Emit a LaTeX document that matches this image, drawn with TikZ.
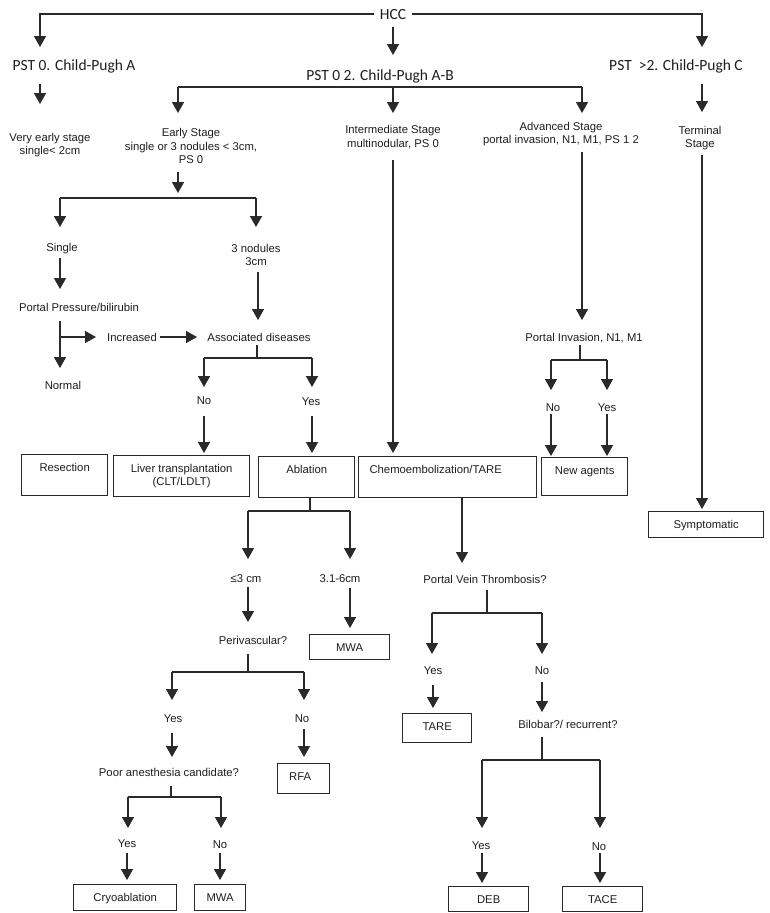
\documentclass[tikz,border=0pt]{standalone}
\usepackage{fontspec}
\setmainfont{Liberation Sans}
\newfontfamily\calfont{Carlito}
\usetikzlibrary{arrows.meta}
\definecolor{ink}{HTML}{1E1E1E}
\definecolor{lnc}{HTML}{2A2A2A}
\tikzset{
 ln/.style={line width=1.35pt, draw=lnc},
 arr/.style={ln, -{Triangle[length=11pt,width=12pt]}},
 lbl/.style={inner sep=0pt, text height=8pt, text depth=0pt, font=\fontsize{11.3}{13.5}\selectfont, text=ink},
 lblm/.style={inner sep=0pt, align=center, font=\fontsize{11.3}{13.5}\selectfont, text=ink},
 big/.style={inner sep=0pt, text height=10pt, text depth=0pt, font=\calfont\fontsize{15.5}{18}\selectfont, text=ink},
 box/.style 2 args={ln, anchor=north west, inner sep=0pt, minimum width=#1, text height=16.5pt, text depth=#2, font=\fontsize{11.3}{13.5}\selectfont, text=ink},
}
\begin{document}
\begin{tikzpicture}[x=1pt,y=-1pt]
\fill[white] (0,0) rectangle (769,913);
\useasboundingbox (0,0) rectangle (769,913);

% ---------- top level ----------
\node[big, inner xsep=6pt] (hcc) at (393,14) {HCC};
\node[big] (pst0) at (74,65) {PST 0. Child-Pugh A};
\node[big] (pst02) at (380,75) {PST 0 2. Child-Pugh A-B};
\node[big] (pst2) at (676,65) {PST\ \ >2. Child-Pugh C};

\draw[arr] (hcc.west) -| (40,47);
\draw[arr] (hcc.east) -| (702,47);
\draw[arr] (393,27) -- (393,55);

% ---------- stage labels ----------
\node[lblm] (vearly) at (50,145) {Very early stage\\single< 2cm};
\node[lblm] (early) at (191,146) {Early Stage\\single or 3 nodules < 3cm,\\PS 0};
\node[lblm] (inter) at (393,137) {Intermediate Stage\\multinodular, PS 0};
\node[lblm] (adv) at (561,134) {Advanced Stage\\portal invasion, N1, M1, PS 1 2};
\node[lblm] (term) at (700,138) {Terminal\\Stage};

\draw[arr] (40,84) -- (40,104);
\draw[ln] (178,87) -- (582,87);
\draw[arr] (178,87) -- (178,113);
\draw[arr] (393,87) -- (393,113);
\draw[arr] (582,87) -- (582,113);
\draw[arr] (702,84) -- (702,112);

% ---------- early stage branch ----------
\draw[arr] (178,172) -- (178,193);
\draw[ln] (60,198) -- (256,198);
\draw[arr] (60,198) -- (60,227);
\draw[arr] (256,198) -- (256,227);

\node[lbl] (single) at (62,247) {Single};
\node[lblm] (nod3) at (256,255) {3 nodules\\3cm};
\node[lbl] (ppb) at (79,307) {Portal Pressure/bilirubin};
\node[lbl] (incr) at (132,337) {Increased};
\node[lbl] (assoc) at (259,337) {Associated diseases};
\node[lbl] (normal) at (63,385) {Normal};

\draw[arr] (60,258) -- (60,289);
\draw[arr] (60,321) -- (60,368);
\draw[arr] (60,337) -- (96,337);
\draw[arr] (160,337) -- (197,337);
\draw[arr] (258,272) -- (258,320);

\draw[ln] (257,345) -- (257,358);
\draw[ln] (204,358) -- (312,358);
\draw[arr] (204,358) -- (204,387);
\draw[arr] (312,358) -- (312,387);
\node[lbl] (no1) at (204,400) {No};
\node[lbl] (yes1) at (311,401) {Yes};
\draw[arr] (204,416) -- (204,453);
\draw[arr] (312,416) -- (312,453);

% ---------- intermediate / advanced / terminal ----------
\draw[arr] (393,160) -- (393,453);
\draw[arr] (582,152) -- (582,320);
\node[lbl] (pinv) at (584,337) {Portal Invasion, N1, M1};
\draw[ln] (580,345) -- (580,360);
\draw[ln] (551,360) -- (607,360);
\draw[arr] (551,360) -- (551,390);
\draw[arr] (607,360) -- (607,390);
\node[lbl] (no2) at (553,407) {No};
\node[lbl] (yes2) at (607,407) {Yes};
\draw[arr] (551,414) -- (551,456);
\draw[arr] (607,414) -- (607,456);
\draw[arr] (702,155) -- (702,509);

% ---------- treatment boxes ----------
\node[box={86pt}{24.5pt}] (resect) at (21,454) {Resection};
\node[ln, anchor=north west, inner sep=0pt, minimum width=136pt, minimum height=41pt, align=center, font=\fontsize{11.3}{13.5}\selectfont, text=ink] (liver) at (113,455) {Liver transplantation\\(CLT/LDLT)};
\node[box={96pt}{24.5pt}] (ablat) at (258,456) {Ablation};
\node[box={178pt}{24.5pt}] (chemo) at (358,456) {Chemoembolization/TARE\rule{24pt}{0pt}};
\node[box={86pt}{21.5pt}] (newag) at (541,457) {New agents};
\node[box={115pt}{9.5pt}] (sympt) at (648,511) {Symptomatic};

% ---------- ablation branch ----------
\draw[ln] (310,497) -- (310,511);
\draw[ln] (248,511) -- (350,511);
\draw[arr] (248,511) -- (248,559);
\draw[arr] (350,511) -- (350,559);
\node[lbl] (le3) at (246,578) {≤3 cm};
\node[lbl] (r36) at (340,578) {3.1-6cm};
\draw[arr] (248,587) -- (248,622);
\draw[arr] (350,588) -- (350,628);
\node[box={80pt}{8.5pt}] (mwa1) at (309,634) {MWA};
\node[lbl] (periv) at (253,640) {Perivascular?};

\draw[ln] (248,654) -- (248,672);
\draw[ln] (172,672) -- (304,672);
\draw[arr] (172,672) -- (172,700);
\draw[arr] (304,672) -- (304,700);
\node[lbl] (yes3) at (173,718) {Yes};
\node[lbl] (no3) at (302,718) {No};
\draw[arr] (172,733) -- (172,757);
\draw[arr] (304,729) -- (304,757);
\node[box={52pt}{13.5pt}] (rfa) at (277,763) {RFA\rule{7pt}{0pt}};
\node[lbl] (poor) at (169,772) {Poor anesthesia candidate?};

\draw[ln] (171,786) -- (171,797);
\draw[ln] (128,797) -- (221,797);
\draw[arr] (128,797) -- (128,828);
\draw[arr] (221,797) -- (221,828);
\node[lbl] (yes4) at (127,843) {Yes};
\node[lbl] (no4) at (220,844) {No};
\draw[arr] (127,853) -- (127,880);
\draw[arr] (220,853) -- (220,880);
\node[box={103pt}{9.5pt}] (cryo) at (73,884) {Cryoablation};
\node[box={51pt}{9.5pt}] (mwa2) at (194,884) {MWA};

% ---------- chemo branch ----------
\draw[arr] (462,497) -- (462,563);
\node[lbl] (pvt) at (485,579) {Portal Vein Thrombosis?};
\draw[ln] (487,590) -- (487,613);
\draw[ln] (432,613) -- (542,613);
\draw[arr] (432,613) -- (432,654);
\draw[arr] (542,613) -- (542,654);
\node[lbl] (yes5) at (433,670) {Yes};
\node[lbl] (no5) at (542,670) {No};
\draw[arr] (433,685) -- (433,708);
\draw[arr] (542,682) -- (542,712);
\node[box={69pt}{12.5pt}] (tare) at (402,713) {TARE};
\node[lbl] (bilo) at (568,724) {Bilobar?/ recurrent?};

\draw[ln] (542,737) -- (542,760);
\draw[ln] (482,760) -- (600,760);
\draw[arr] (482,760) -- (482,828);
\draw[arr] (600,760) -- (600,828);
\node[lbl] (yes6) at (481,845) {Yes};
\node[lbl] (no6) at (599,846) {No};
\draw[arr] (482,853) -- (482,883);
\draw[arr] (600,853) -- (600,883);
\node[box={80pt}{8.5pt}] (deb) at (448,886) {DEB};
\node[box={80pt}{8.5pt}] (tace) at (562,886) {TACE};
\end{tikzpicture}
\end{document}
